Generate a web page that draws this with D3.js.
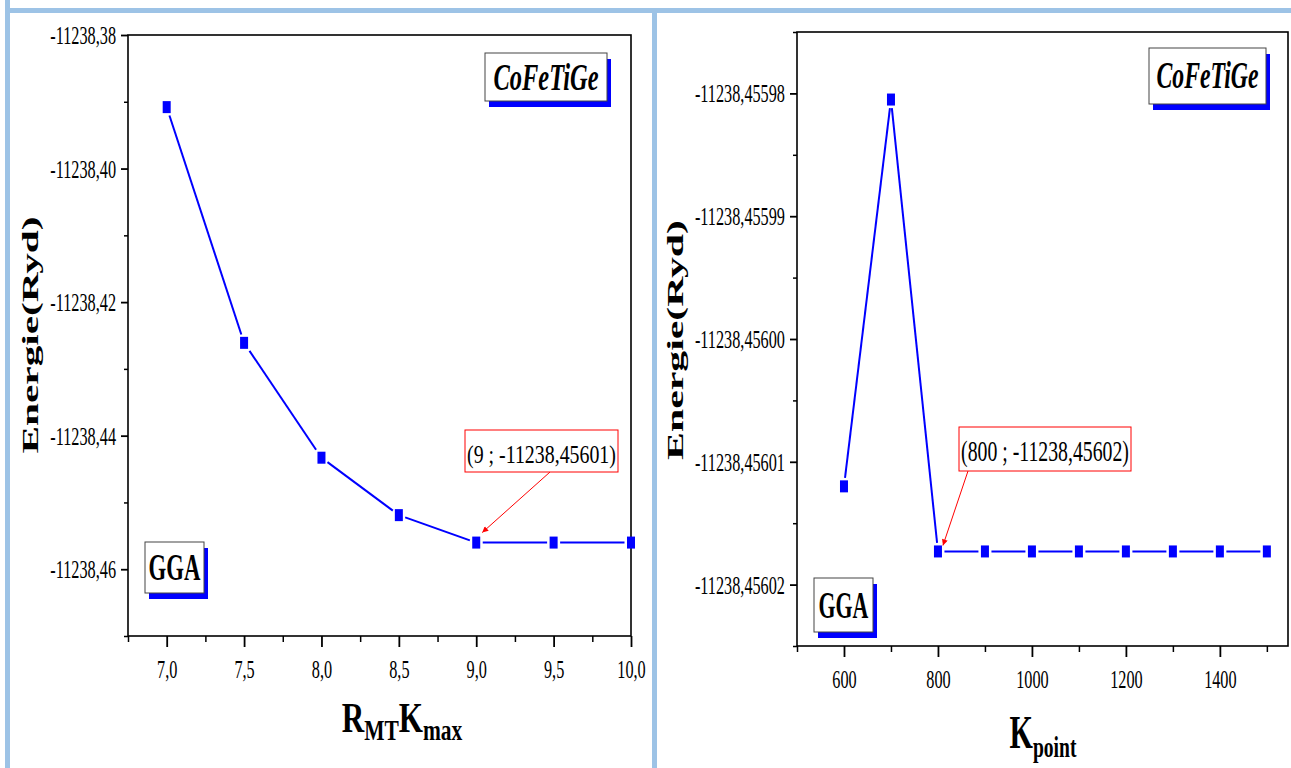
<!DOCTYPE html>
<html>
<head>
<meta charset="utf-8">
<script src="https://cdn.jsdelivr.net/npm/d3@7"></script>
<style>
  html, body { margin: 0; padding: 0; background: #fff; }
  svg { display: block; }
  text { font-family: "Liberation Serif", "Times New Roman", serif; fill: #000; }
</style>
</head>
<body>
<svg id="chart" width="1291" height="768"></svg>
<script>
// Total-energy convergence of CoFeTiGe (GGA): R_MT*K_max test and k-point test

// --- R_MT K_max test ---
const rmtKmax   = [7.0, 7.5, 8.0, 8.5, 9.0, 9.5, 10.0];
const energyRmt = [-11238.3908, -11238.4261, -11238.4433, -11238.4519, -11238.45601, -11238.45601, -11238.45601];
const rmtXTicks = [7.0, 7.5, 8.0, 8.5, 9.0, 9.5, 10.0];
const rmtXMinor = [6.75, 7.25, 7.75, 8.25, 8.75, 9.25, 9.75];
const rmtYTicks = [-11238.38, -11238.40, -11238.42, -11238.44, -11238.46];
const rmtYMinor = [-11238.39, -11238.41, -11238.43, -11238.45, -11238.47];

// --- k-point test ---
const kPoints   = [600, 700, 800, 900, 1000, 1100, 1200, 1300, 1400, 1500];
const energyK   = [-11238.456012, -11238.4559805, -11238.4560173, -11238.4560173, -11238.4560173,
                   -11238.4560173, -11238.4560173, -11238.4560173, -11238.4560173, -11238.4560173];
const kXTicks   = [600, 800, 1000, 1200, 1400];
const kXMinor   = [500, 700, 900, 1100, 1300, 1500];
const kYTicks   = [-11238.45598, -11238.45599, -11238.45600, -11238.45601, -11238.45602];
const kYMinor   = [-11238.455975, -11238.455985, -11238.455995, -11238.456005, -11238.456015, -11238.456025];

const svg = d3.select("#chart");
const BLUE = "#0000ff";
const FRAME_BLUE = "#9dc3e6";
const TICK_FS = 25;
const TICK_SX = 0.65;

// decimal comma, plain hyphen for the sign
const commaFmt = digits => v => d3.format(`.${digits}f`)(v).replace("\u2212", "-").replace(".", ",");

// page frame bars
svg.append("rect").attr("x", 0).attr("y", 0).attr("width", 1291).attr("height", 768).attr("fill", "#fff");
svg.append("rect").attr("x", 5).attr("y", 8).attr("width", 1286).attr("height", 5).attr("fill", FRAME_BLUE);
svg.append("rect").attr("x", 5).attr("y", 0).attr("width", 5).attr("height", 768).attr("fill", FRAME_BLUE);
svg.append("rect").attr("x", 652).attr("y", 13).attr("width", 5).attr("height", 755).attr("fill", FRAME_BLUE);

const defs = svg.append("defs");
defs.append("marker")
  .attr("id", "redArrow").attr("viewBox", "0 0 10 10")
  .attr("refX", 10).attr("refY", 5)
  .attr("markerWidth", 10).attr("markerHeight", 6)
  .attr("orient", "auto").attr("markerUnits", "userSpaceOnUse")
  .append("path").attr("d", "M0,0 L10,5 L0,10 Z").attr("fill", "#ff0000");

// stretch a text (anchored at its own origin) to a target width
function fit(t, x, y, width, sy = 1, rot = 0) {
  const w = t.node().getBBox().width;
  t.attr("transform", `translate(${x},${y})${rot ? ` rotate(${rot})` : ""} scale(${width / w},${sy})`);
  return t;
}

function styleAxis(g, sw) {
  g.attr("font-family", null).attr("font-size", null);
  g.select(".domain").remove();
  g.selectAll(".tick line").attr("stroke", "#000").attr("stroke-width", sw);
}

function tagBox(x0, y0, w, h, label, fontSize, textW, baseline, opts = {}) {
  const g = svg.append("g");
  g.append("rect").attr("x", x0 + 4).attr("y", y0 + 6).attr("width", w).attr("height", h).attr("fill", BLUE);
  g.append("rect").attr("x", x0).attr("y", y0).attr("width", w).attr("height", h)
    .attr("fill", "#fff").attr("stroke", "#444").attr("stroke-width", 1);
  const t = g.append("text").attr("text-anchor", "middle")
    .style("font-size", fontSize + "px").style("font-weight", "bold")
    .style("font-style", opts.italic ? "italic" : "normal").text(label);
  fit(t, x0 + w / 2, y0 + baseline, textW);
}

function annotate(box, label, fontSize, textW, baseline, from, tip) {
  const g = svg.append("g");
  g.append("rect").attr("x", box[0]).attr("y", box[1]).attr("width", box[2]).attr("height", box[3])
    .attr("fill", "#fff").attr("stroke", "#ff0000").attr("stroke-width", 1);
  const t = g.append("text").attr("text-anchor", "middle").style("font-size", fontSize + "px").text(label);
  fit(t, box[0] + box[2] / 2, box[1] + baseline, textW);
  g.append("line").attr("x1", from[0]).attr("y1", from[1]).attr("x2", tip[0]).attr("y2", tip[1])
    .attr("stroke", "#ff0000").attr("stroke-width", 1).attr("marker-end", "url(#redArrow)");
}

function panel(cfg) {
  const x = d3.scaleLinear().domain(cfg.xDomain).range([cfg.left, cfg.right]);
  const y = d3.scaleLinear().domain(cfg.yDomain).range([cfg.bottom, cfg.top]);
  const g = svg.append("g");

  // frame
  g.append("rect").attr("x", cfg.left).attr("y", cfg.top)
    .attr("width", cfg.right - cfg.left).attr("height", cfg.bottom - cfg.top)
    .attr("fill", "none").attr("stroke", "#000").attr("stroke-width", 1.6);

  // y axis
  g.append("g").attr("transform", `translate(${cfg.left},0)`)
    .call(d3.axisLeft(y).tickValues(cfg.yMinor).tickSize(4).tickFormat(""))
    .call(a => styleAxis(a, 1.5));
  const ya = g.append("g").attr("transform", `translate(${cfg.left},0)`)
    .call(d3.axisLeft(y).tickValues(cfg.yTicks).tickSize(7).tickFormat(cfg.yFmt))
    .call(a => styleAxis(a, 1.8));
  ya.selectAll(".tick text").attr("x", 0).attr("dy", "0.34em")
    .style("font-size", TICK_FS + "px")
    .attr("transform", `translate(-12,0) scale(${TICK_SX},1)`);

  // x axis
  g.append("g").attr("transform", `translate(0,${cfg.bottom})`)
    .call(d3.axisBottom(x).tickValues(cfg.xMinor).tickSize(6).tickFormat(""))
    .call(a => styleAxis(a, 1.5));
  const xa = g.append("g").attr("transform", `translate(0,${cfg.bottom})`)
    .call(d3.axisBottom(x).tickValues(cfg.xTicks).tickSize(11).tickFormat(cfg.xFmt))
    .call(a => styleAxis(a, 1.8));
  xa.selectAll(".tick text").attr("y", 0).attr("dy", null)
    .style("font-size", TICK_FS + "px")
    .attr("transform", `translate(0,42) scale(${TICK_SX},1)`);

  // data line, broken around each symbol
  const pts = cfg.xs.map((v, i) => [x(v), y(cfg.ys[i])]);
  const hw = 4, hh = 6, gap = 2.5;
  const clip = (ux, uy) => Math.min(ux ? hw / Math.abs(ux) : Infinity, uy ? hh / Math.abs(uy) : Infinity) + gap;
  for (let i = 0; i < pts.length - 1; i++) {
    const [x1, y1] = pts[i], [x2, y2] = pts[i + 1];
    const len = Math.hypot(x2 - x1, y2 - y1), ux = (x2 - x1) / len, uy = (y2 - y1) / len;
    const d = clip(ux, uy);
    g.append("line")
      .attr("x1", x1 + ux * d).attr("y1", y1 + uy * d)
      .attr("x2", x2 - ux * d).attr("y2", y2 - uy * d)
      .attr("stroke", BLUE).attr("stroke-width", 2);
  }
  g.selectAll("rect.sym").data(pts).join("rect").attr("class", "sym")
    .attr("x", d => d[0] - hw).attr("y", d => d[1] - hh)
    .attr("width", hw * 2).attr("height", hh * 2).attr("fill", BLUE);

  // y title
  const yt = g.append("text").attr("text-anchor", "middle")
    .style("font-size", "40px").style("font-weight", "bold").text("Energie(Ryd)");
  fit(yt, cfg.yTitle[0], cfg.yTitle[1], cfg.yTitle[2], 0.6, -90);

  return { x, y };
}

// left panel: R_MT K_max
const p1 = panel({
  left: 128, right: 631, top: 35, bottom: 636,
  xDomain: [6.75, 10.0], yDomain: [-11238.47, -11238.38],
  xTicks: rmtXTicks, xMinor: rmtXMinor, yTicks: rmtYTicks, yMinor: rmtYMinor,
  xFmt: commaFmt(1), yFmt: commaFmt(2),
  xs: rmtKmax, ys: energyRmt,
  yTitle: [38, 335, 237]
});

// left x title: R_MT K_max
{
  const t = svg.append("text").attr("text-anchor", "middle").style("font-weight", "bold");
  t.append("tspan").style("font-size", "42px").text("R");
  t.append("tspan").style("font-size", "29px").attr("dy", 8).text("MT");
  t.append("tspan").style("font-size", "42px").attr("dy", -8).text("K");
  t.append("tspan").style("font-size", "29px").attr("dy", 8).text("max");
  fit(t, 402, 732, 121);
}

// right panel: k points
const p2 = panel({
  left: 797, right: 1288, top: 32, bottom: 646,
  xDomain: [500, 1545], yDomain: [-11238.456025, -11238.455975],
  xTicks: kXTicks, xMinor: kXMinor, yTicks: kYTicks, yMinor: kYMinor,
  xFmt: d3.format("d"), yFmt: commaFmt(5),
  xs: kPoints, ys: energyK,
  yTitle: [683, 340, 240]
});

// right x title: K_point
{
  const t = svg.append("text").attr("text-anchor", "middle").style("font-weight", "bold");
  t.append("tspan").style("font-size", "46px").text("K");
  t.append("tspan").style("font-size", "30px").attr("dy", 9).text("point");
  fit(t, 1043, 748, 67);
}

// compound and functional tags
tagBox(485, 53, 122, 48, "CoFeTiGe", 37, 105, 37, { italic: true });
tagBox(1149, 48, 117, 56, "CoFeTiGe", 37, 102, 40, { italic: true });
tagBox(145, 542, 59, 51, "GGA", 37, 52, 38);
tagBox(814, 578, 59, 54, "GGA", 37, 50, 40);

// converged-point annotations
{
  const i = 4;
  const px = p1.x(rmtKmax[i]), py = p1.y(energyRmt[i]);
  annotate([465, 430, 153, 42], `(${d3.format("d")(rmtKmax[i])} ; ${commaFmt(5)(energyRmt[i])})`,
    26, 149, 33, [550, 472], [px + 6, py - 10]);
}
{
  const i = 2;
  const px = p2.x(kPoints[i]), py = p2.y(energyK[i]);
  annotate([959, 427, 172, 44], `(${kPoints[i]} ; ${commaFmt(5)(energyK[i])})`,
    29, 168, 34, [968, 471], [px + 5, py - 6]);
}
</script>
</body>
</html>
